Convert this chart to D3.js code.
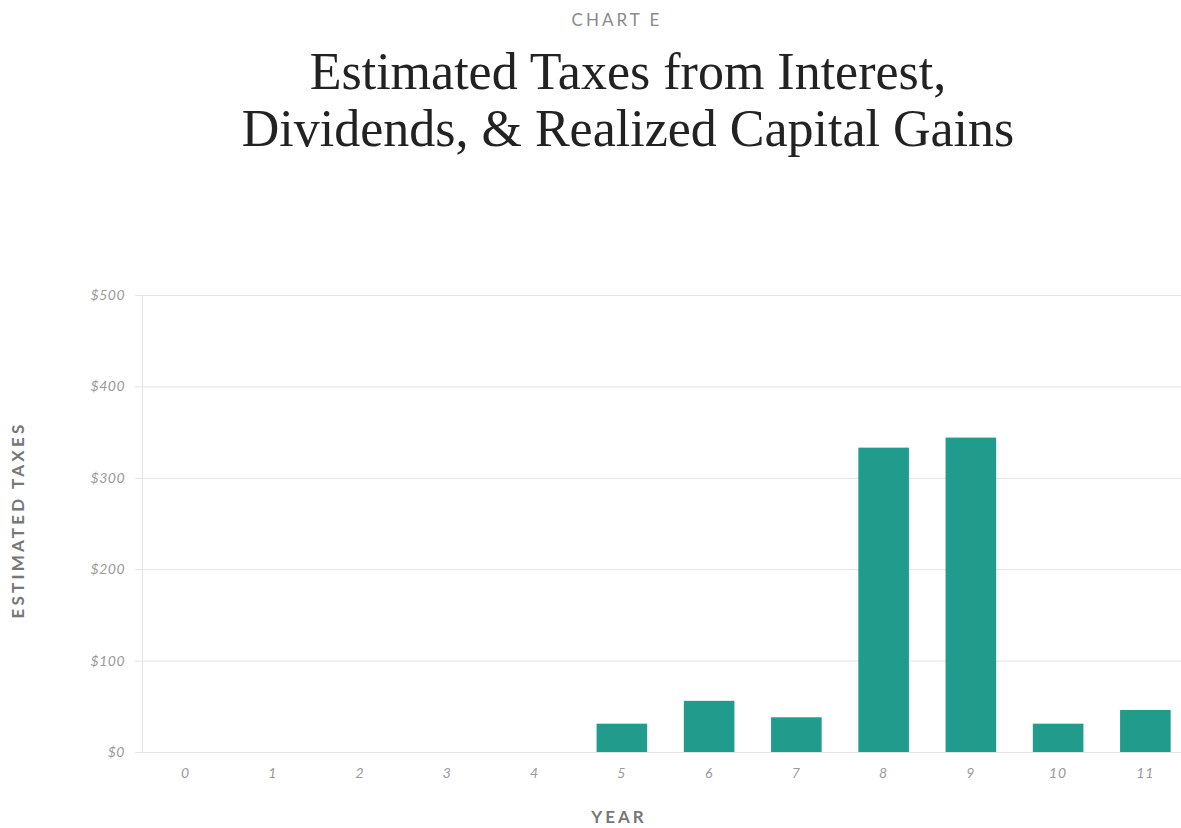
<!DOCTYPE html>
<html>
<head>
<meta charset="utf-8">
<script src="https://cdn.jsdelivr.net/npm/d3@7"></script>
<style>
  body { margin: 0; background: #fff; }
  svg { display: block; }
</style>
</head>
<body>
<div id="chart"></div>
<script>
  // Data
  const years = ['0', '1', '2', '3', '4', '5', '6', '7', '8', '9', '10', '11'];
  const taxes = [0, 0, 0, 0, 0, 31, 56, 38, 333, 344, 31, 46];
  const yTicks = [0, 100, 200, 300, 400, 500];

  const width = 1181;
  const height = 828;
  const margin = {top: 295, right: -8, bottom: 76, left: 142};

  const svg = d3.select('#chart')
    .append('svg')
    .attr('width', width)
    .attr('height', height);

  // Header
  svg.append('text')
    .attr('x', 617)
    .attr('y', 26)
    .attr('text-anchor', 'middle')
    .attr('font-family', 'Lato, sans-serif')
    .attr('font-size', '17px')
    .attr('letter-spacing', '3px')
    .attr('fill', '#8a8a8a')
    .text('CHART E');

  const titleLines = ['Estimated Taxes from Interest,', 'Dividends, & Realized Capital Gains'];
  svg.append('g')
    .selectAll('text')
    .data(titleLines)
    .join('text')
    .attr('x', 628)
    .attr('y', (d, i) => 89 + i * 57)
    .attr('text-anchor', 'middle')
    .attr('font-family', '"Liberation Serif", serif')
    .attr('font-size', '52px')
    .attr('fill', '#222')
    .text(d => d);

  // Scales
  const x = d3.scaleBand()
    .domain(years)
    .range([margin.left, width - margin.right])
    .paddingInner(0.42)
    .paddingOuter(0.21);

  const y = d3.scaleLinear()
    .domain([0, 500])
    .range([height - margin.bottom, margin.top]);

  // Grid lines
  svg.append('g')
    .selectAll('line')
    .data(yTicks)
    .join('line')
    .attr('x1', margin.left - 7)
    .attr('x2', width)
    .attr('y1', d => y(d) + 0.5)
    .attr('y2', d => y(d) + 0.5)
    .attr('stroke', '#e3e3e3')
    .attr('stroke-width', 1);

  // Y axis line
  svg.append('line')
    .attr('x1', margin.left + 0.5)
    .attr('x2', margin.left + 0.5)
    .attr('y1', y(500))
    .attr('y2', y(0))
    .attr('stroke', '#e3e3e3');

  // Y tick labels
  svg.append('g')
    .selectAll('text')
    .data(yTicks)
    .join('text')
    .attr('x', 125)
    .attr('y', d => y(d))
    .attr('dy', '0.35em')
    .attr('text-anchor', 'end')
    .attr('font-family', 'Lato, sans-serif')
    .attr('font-style', 'italic')
    .attr('font-size', '14px')
    .attr('letter-spacing', '0.5px')
    .attr('fill', '#999')
    .text(d => '$' + d);

  // Bars
  svg.append('g')
    .selectAll('rect')
    .data(years.map((yr, i) => ({year: yr, value: taxes[i]})))
    .join('rect')
    .attr('x', d => x(d.year))
    .attr('y', d => y(d.value))
    .attr('width', x.bandwidth())
    .attr('height', d => y(0) - y(d.value))
    .attr('fill', '#219c8c');

  // X tick labels
  svg.append('g')
    .selectAll('text')
    .data(years)
    .join('text')
    .attr('x', d => x(d) + x.bandwidth() / 2)
    .attr('y', 778)
    .attr('text-anchor', 'middle')
    .attr('font-family', 'Lato, sans-serif')
    .attr('font-style', 'italic')
    .attr('font-size', '14px')
    .attr('letter-spacing', '1px')
    .attr('fill', '#999')
    .text(d => d);

  // Axis titles
  svg.append('text')
    .attr('x', 619)
    .attr('y', 823)
    .attr('text-anchor', 'middle')
    .attr('font-family', 'Lato, sans-serif')
    .attr('font-weight', 'bold')
    .attr('font-size', '17px')
    .attr('letter-spacing', '3px')
    .attr('fill', '#777')
    .text('YEAR');

  svg.append('text')
    .attr('transform', 'translate(24,520) rotate(-90)')
    .attr('text-anchor', 'middle')
    .attr('font-family', 'Lato, sans-serif')
    .attr('font-weight', 'bold')
    .attr('font-size', '17px')
    .attr('letter-spacing', '3.2px')
    .attr('fill', '#777')
    .text('ESTIMATED TAXES');
</script>
</body>
</html>
